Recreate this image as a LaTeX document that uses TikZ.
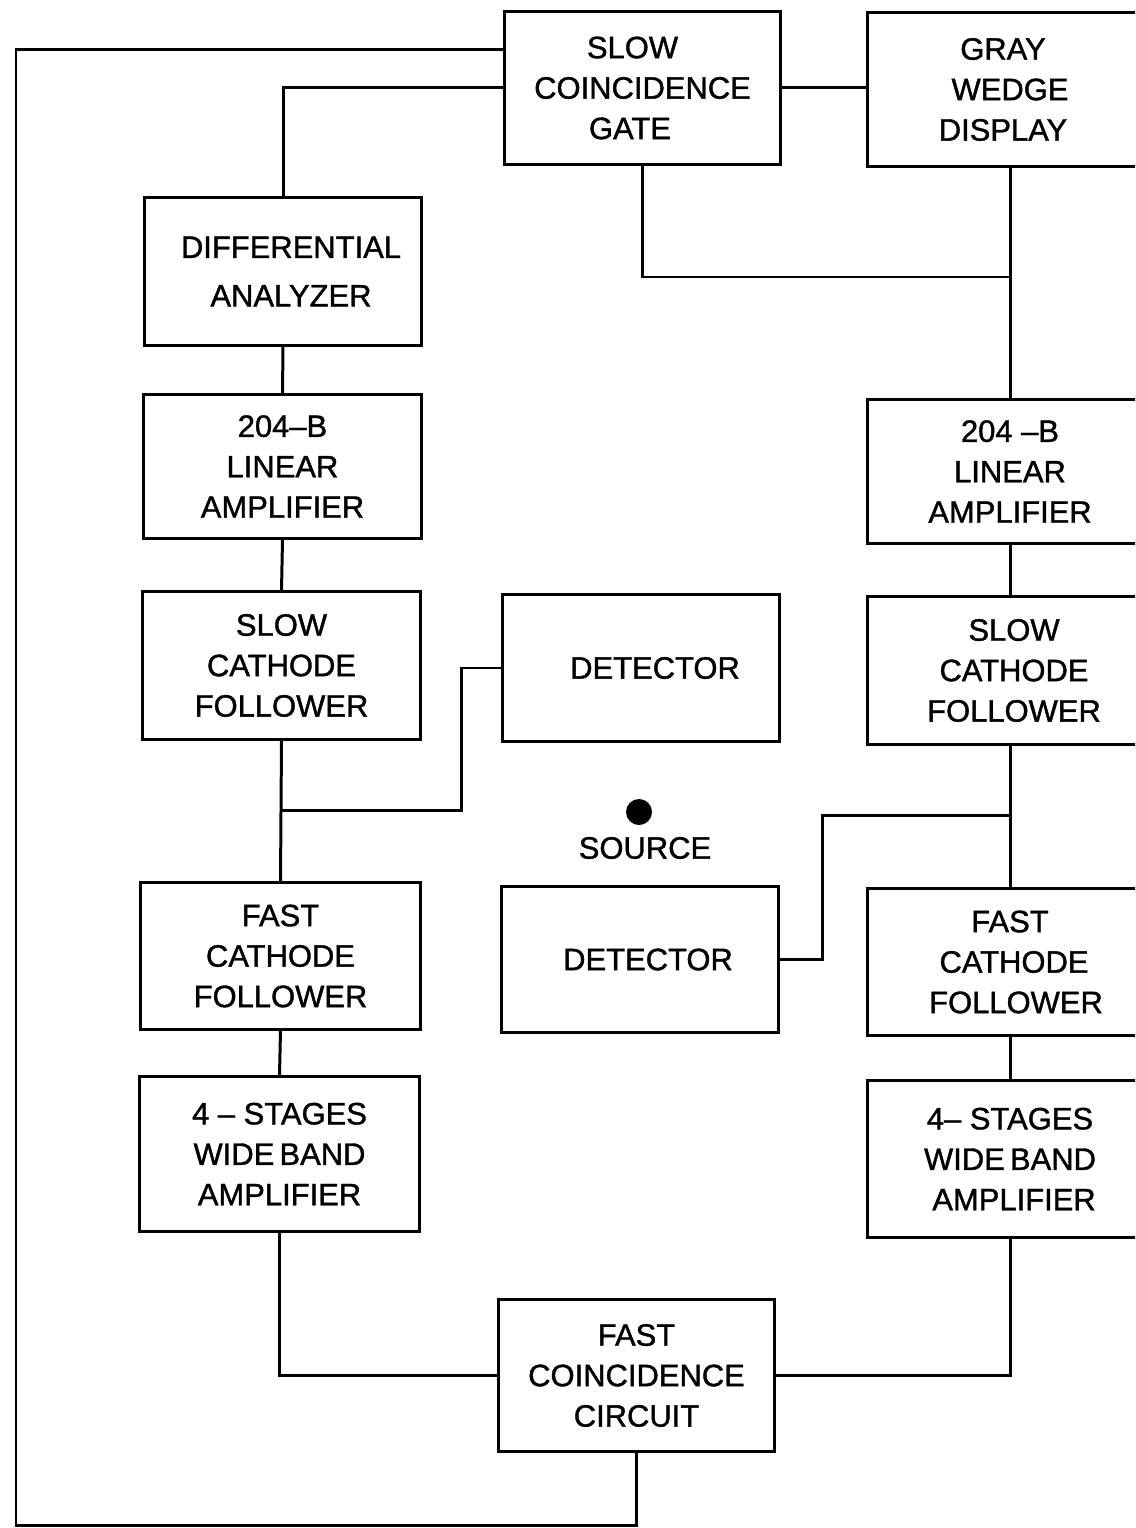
\documentclass[tikz,border=0pt]{standalone}
\usepackage{fontspec}
\setmainfont{Liberation Sans}[FakeBold=1.2]
\begin{document}
\begin{tikzpicture}[x=0.01cm,y=-0.01cm,
  wire/.style={line width=0.85pt,line join=miter},
  blk/.style={draw,line width=0.85pt,rectangle,inner sep=0pt,align=center,
    font=\fontsize{8.8}{11.5}\selectfont},
]
\useasboundingbox (0,0) rectangle (1135,1528);
\clip (0,0) rectangle (1135,1528);
% top
\node[blk,minimum width=2.75cm,minimum height=1.52cm] (gate) at (642.5,88) {SLOW\hspace*{0.2cm}\\COINCIDENCE\\GATE\hspace*{0.25cm}};
\node[blk,minimum width=2.84cm,minimum height=1.53cm] (gray) at (1010,89.5) {GRAY\hspace*{0.14cm}\\WEDGE\hspace*{0.14cm}\\DISPLAY\hspace*{0.14cm}};
% left column
\node[blk,minimum width=2.76cm,minimum height=1.47cm,font=\fontsize{8.8}{13.8}\selectfont] (diff) at (283,271.5) {\hspace*{0.16cm}DIFFERENTIAL\\\hspace*{0.16cm}ANALYZER};
\node[blk,minimum width=2.77cm,minimum height=1.43cm] (linL) at (282.5,466.5) {204–B\\LINEAR\\AMPLIFIER};
\node[blk,minimum width=2.77cm,minimum height=1.47cm] (scfL) at (281.5,665.5) {SLOW\\CATHODE\\FOLLOWER};
\node[blk,minimum width=2.79cm,minimum height=1.46cm] (fcfL) at (280.5,956) {FAST\\CATHODE\\FOLLOWER};
\node[blk,minimum width=2.79cm,minimum height=1.54cm] (wbL) at (279.5,1154) {4 – STAGES\\WIDE\,BAND\\AMPLIFIER};
% middle
\node[blk,minimum width=2.76cm,minimum height=1.46cm] (detT) at (641,668) {\hspace*{0.28cm}DETECTOR};
\node[blk,minimum width=2.76cm,minimum height=1.45cm] (detB) at (640,959.5) {\hspace*{0.16cm}DETECTOR};
\node[blk,minimum width=2.75cm,minimum height=1.51cm] (fcc) at (636.5,1375.5) {FAST\\COINCIDENCE\\CIRCUIT};
\fill (639,812) circle[radius=0.13cm] coordinate (src);
\node[font=\fontsize{8.8}{11.5}\selectfont,inner sep=0pt] (srclbl) at (645,848) {SOURCE};
% right column
\node[blk,minimum width=2.84cm,minimum height=1.43cm] (linR) at (1010,471.5) {204 –B\\LINEAR\\AMPLIFIER};
\node[blk,minimum width=2.84cm,minimum height=1.47cm] (scfR) at (1010,670.5) {\hspace*{0.08cm}SLOW\\\hspace*{0.08cm}CATHODE\\\hspace*{0.08cm}FOLLOWER};
\node[blk,minimum width=2.84cm,minimum height=1.46cm] (fcfR) at (1010,962) {FAST\\\hspace*{0.08cm}CATHODE\\\hspace*{0.12cm}FOLLOWER};
\node[blk,minimum width=2.84cm,minimum height=1.56cm] (wbR) at (1010,1159) {4– STAGES\\WIDE\,BAND\\\hspace*{0.08cm}AMPLIFIER};
% connectors
\coordinate (Jl) at (scfL.south |- 0,810);
\coordinate (Jr) at (scfR.south |- 0,815);
\coordinate (Jg) at (gray.south |- 0,277);
\draw[wire] (gate.west |- 0,50) -- (16,50) -- (16,1525) -| (fcc.south);
\draw[wire] (gate.west |- 0,88) -| (diff.north);
\draw[wire] (diff.south) -- (linL.north);
\draw[wire] (linL.south) -- (scfL.north);
\draw[wire] (scfL.south) -- (fcfL.north);
\draw[wire] (fcfL.south) -- (wbL.north);
\draw[wire] (Jl) -- (461,810) |- (detT.west);
\draw[wire] (wbL.south) |- (fcc.west);
\draw[wire] (gate.east) -- (gate.east -| gray.west);
\draw[wire] (gate.south) |- (Jg);
\draw[wire] (gray.south) -- (linR.north);
\draw[wire] (linR.south) -- (scfR.north);
\draw[wire] (scfR.south) -- (fcfR.north);
\draw[wire] (fcfR.south) -- (wbR.north);
\draw[wire] (Jr) -- (822,815) |- (detB.east);
\draw[wire] (wbR.south) |- (fcc.east);
\end{tikzpicture}
\end{document}
